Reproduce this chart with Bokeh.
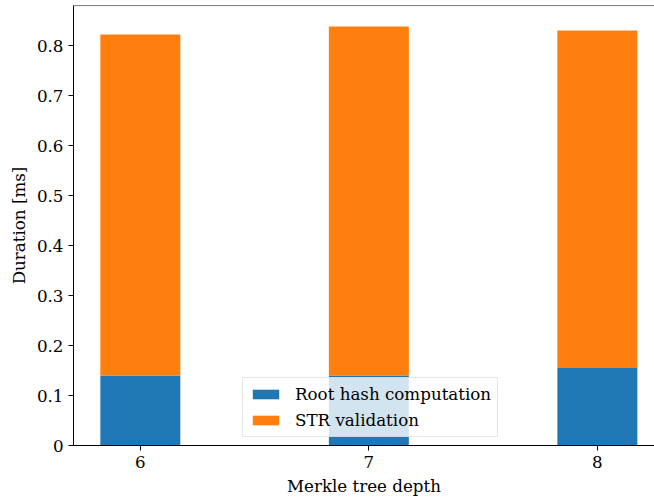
from bokeh.plotting import figure
from bokeh.models import ColumnDataSource, FixedTicker, Range1d, Legend, Span
from bokeh.embed import file_html
from bokeh.resources import INLINE

# Timing breakdown per Merkle tree depth (ms)
depths = [6, 7, 8]
root_hash = [0.140, 0.140, 0.155]
str_validation = [0.682, 0.698, 0.675]
y_ticks = [0.0, 0.1, 0.2, 0.3, 0.4, 0.5, 0.6, 0.7, 0.8]

FONT = "DejaVu Serif"
FS = "16.7px"

source = ColumnDataSource(dict(depth=depths, root=root_hash, str_val=str_validation))

p = figure(width=654, height=498, output_backend="svg", toolbar_location=None,
           x_range=Range1d(5.7075, 8.25), y_range=Range1d(0, 0.88))
p.min_border_left = 73
p.min_border_right = 0
p.min_border_top = 5
p.min_border_bottom = 53
p.outline_line_color = None
p.background_fill_color = "white"
p.border_fill_color = "white"

renderers = p.vbar_stack(["root", "str_val"], x="depth", width=0.35, source=source,
                         color=["#1f77b4", "#ff7f0e"], line_color=None)

# top spine of the axes box
p.add_layout(Span(location=0.8799, dimension="width", line_color="black", line_width=1))

legend = Legend(items=[("Root hash computation", [renderers[0]]),
                       ("STR validation", [renderers[1]])],
                location=(169, 8))
legend.label_text_font = FONT
legend.label_text_font_size = FS
legend.label_text_color = "black"
legend.label_standoff = 13
legend.glyph_width = 33
legend.glyph_height = 12
legend.spacing = 6
legend.padding = 6
legend.margin = 0
legend.background_fill_color = "white"
legend.background_fill_alpha = 0.8
legend.border_line_color = "#cccccc"
legend.border_line_width = 1
p.add_layout(legend, "center")

p.xgrid.visible = False
p.ygrid.visible = False

for ax in (p.xaxis, p.yaxis):
    ax.axis_line_color = "black"
    ax.axis_line_width = 1
    ax.major_tick_line_color = "black"
    ax.major_tick_out = 5
    ax.major_tick_in = 0
    ax.minor_tick_line_color = None
    ax.major_label_text_font = FONT
    ax.major_label_text_font_size = FS
    ax.major_label_text_color = "black"
    ax.axis_label_text_font = FONT
    ax.axis_label_text_font_size = FS
    ax.axis_label_text_font_style = "normal"
    ax.axis_label_text_color = "black"

p.xaxis.ticker = FixedTicker(ticks=depths)
p.yaxis.ticker = FixedTicker(ticks=y_ticks)
p.xaxis.axis_label = "Merkle tree depth"
p.yaxis.axis_label = "Duration [ms]"
p.yaxis.major_label_standoff = 5
p.xaxis.major_label_standoff = 5

open("out.html", "w").write(file_html(p, INLINE))
